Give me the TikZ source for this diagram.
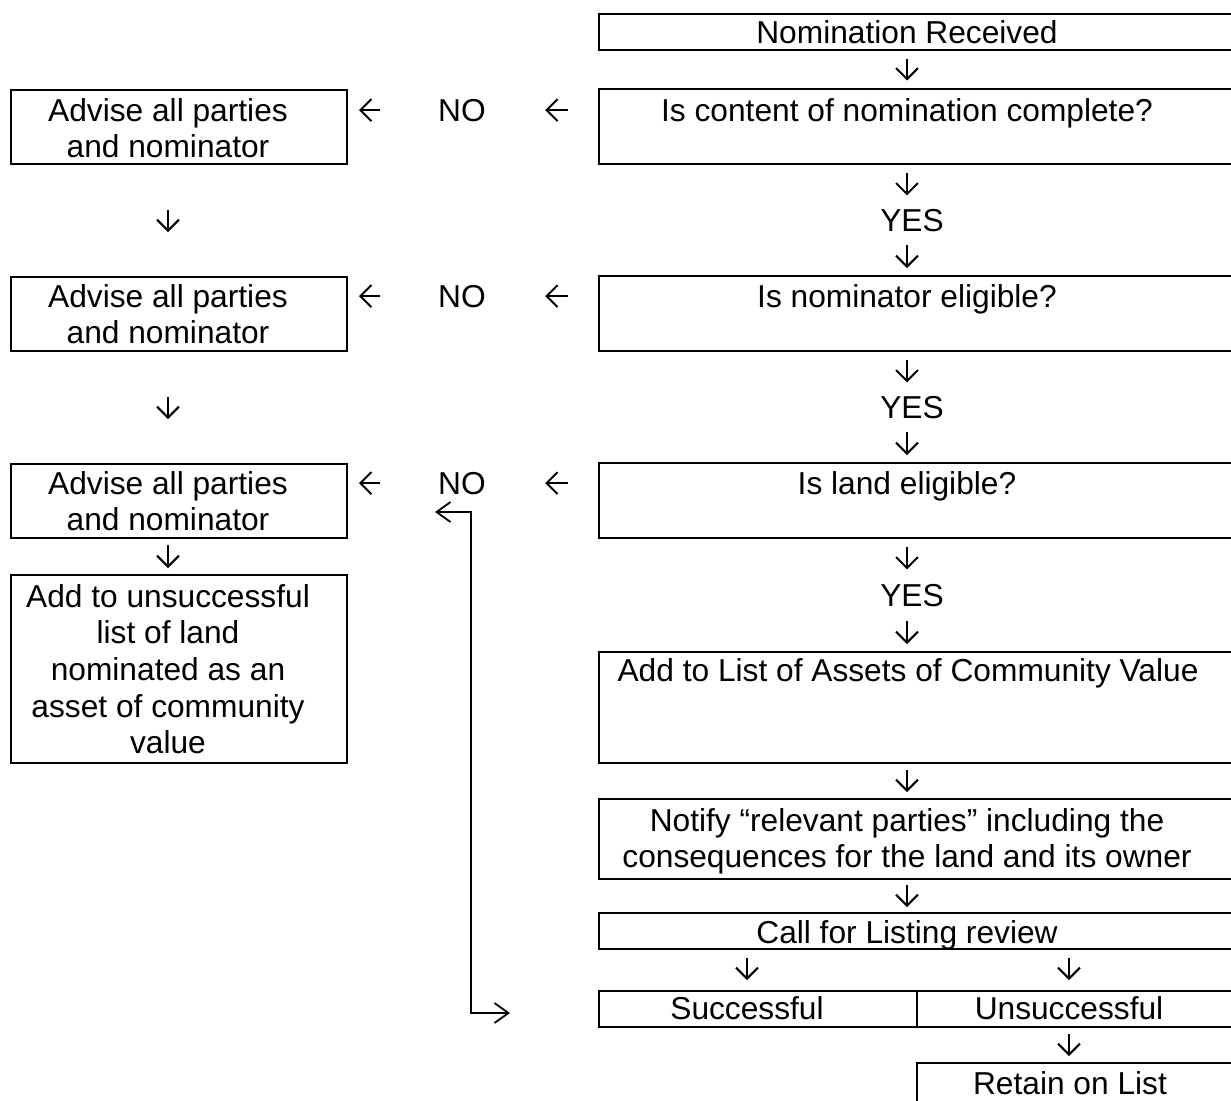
\documentclass[tikz,border=0pt]{standalone}
\usepackage{fontspec}
\setmainfont{Liberation Sans}
\usetikzlibrary{arrows.meta,positioning}
\tikzset{
  box/.style={draw, line width=1pt, inner sep=0pt, anchor=north west},
  txt/.style={inner sep=0pt, align=center, font=\fontsize{15.85pt}{18.3pt}\selectfont},
  flow/.style={line width=1pt, -{Straight Barb[length=5.5pt,width=11pt]}},
  link/.style={line width=0.9pt, {Straight Barb[length=7pt,width=10pt]}-{Straight Barb[length=7pt,width=10pt]}}
}

\begin{document}
\begin{tikzpicture}[x=0.5pt, y=-0.5pt]
\fill[white] (0,0) rectangle (1231,1100);
\useasboundingbox (0,0) rectangle (1231,1100);
\clip (0,0) rectangle (1231,1100);

% right column
\node[box, minimum width=330pt, minimum height=18pt] (nom) at (598,13) {};
\node[box, minimum width=330pt, minimum height=37.5pt] (q1) at (598,88) {};
\node[box, minimum width=330pt, minimum height=37.5pt] (q2) at (598,275) {};
\node[box, minimum width=330pt, minimum height=37.5pt] (q3) at (598,462) {};
\node[box, minimum width=330pt, minimum height=55.5pt] (addl) at (598,651) {};
\node[box, minimum width=330pt, minimum height=40pt] (notify) at (598,798) {};
\node[box, minimum width=330pt, minimum height=18pt] (call) at (598,912) {};
\node[box, minimum width=159pt, minimum height=18pt] (succ) at (598,990) {};
\node[box, minimum width=171pt, minimum height=18pt] (unsucc) at (916,990) {};
\node[box, minimum width=171pt, minimum height=30pt] (retain) at (916,1062) {};

\node[txt, anchor=base] (nomt) at (907,43) {Nomination Received};
\node[txt, anchor=base] (q1t) at (907,121) {Is content of nomination complete?};
\node[txt, anchor=base] (yes1) at (912,231) {YES};
\node[txt, anchor=base] (q2t) at (907,307) {Is nominator eligible?};
\node[txt, anchor=base] (yes2) at (912,418) {YES};
\node[txt, anchor=base] (q3t) at (907,494) {Is land eligible?};
\node[txt, anchor=base] (yes3) at (912,606) {YES};
\node[txt, anchor=base] (addt) at (908,681) {Add to List of Assets of Community Value};
\node[txt, anchor=north] (notifyt) at (907,808) {Notify “relevant parties” including the\\consequences for the land and its owner};
\node[txt, anchor=base] (callt) at (907,943) {Call for Listing review};
\node[txt, anchor=base] (succt) at (747,1019) {Successful};
\node[txt, anchor=base] (unsucct) at (1069,1019) {Unsuccessful};
\node[txt, anchor=base] (retaint) at (1070,1094) {Retain on List};

% left column
\node[box, minimum width=168pt, minimum height=37pt] (adv1) at (10,89) {};
\node[box, minimum width=168pt, minimum height=37pt] (adv2) at (10,276) {};
\node[box, minimum width=168pt, minimum height=37pt] (adv3) at (10,463) {};
\node[box, minimum width=168pt, minimum height=94pt] (unlist) at (10,574) {};

\node[txt, anchor=north] (adv1t) at (168,98) {Advise all parties\\and nominator};
\node[txt, anchor=north] (adv2t) at (168,284) {Advise all parties\\and nominator};
\node[txt, anchor=north] (adv3t) at (168,471) {Advise all parties\\and nominator};
\node[txt, anchor=north] (unlistt) at (168,584) {Add to unsuccessful\\list of land\\nominated as an\\asset of community\\value};

\node[txt, anchor=base] (no1) at (462,121) {NO};
\node[txt, anchor=base] (no2) at (462,307) {NO};
\node[txt, anchor=base] (no3) at (462,494) {NO};

% downward flow
\draw[flow, shorten <=3.75pt, shorten >=3.75pt] (nomt |- nom.south) -- (nomt |- q1.north);
\draw[flow, shorten <=4pt, shorten >=6.5pt] (q1t |- q1.south) -- (q1t |- yes1.north);
\draw[flow, shorten <=6.5pt, shorten >=3.5pt] (q1t |- yes1.south) -- (q1t |- q2.north);
\draw[flow, shorten <=4pt, shorten >=6.5pt] (q2t |- q2.south) -- (q2t |- yes2.north);
\draw[flow, shorten <=6.5pt, shorten >=3.5pt] (q2t |- yes2.south) -- (q2t |- q3.north);
\draw[flow, shorten <=4pt, shorten >=7pt] (q3t |- q3.south) -- (q3t |- yes3.north);
\draw[flow, shorten <=7pt, shorten >=3.5pt] (q3t |- yes3.south) -- (q3t |- addl.north);
\draw[flow, shorten <=3pt, shorten >=3pt] (nomt |- addl.south) -- (nomt |- notify.north);
\draw[flow, shorten <=2.5pt, shorten >=2.5pt] (nomt |- notify.south) -- (nomt |- call.north);
\draw[flow, shorten <=4pt, shorten >=5pt] (succt |- call.south) -- (succt |- succ.north);
\draw[flow, shorten <=4pt, shorten >=5pt] (unsucct |- call.south) -- (unsucct |- unsucc.north);
\draw[flow, shorten <=3pt, shorten >=3pt] (unsucct |- unsucc.south) -- (unsucct |- retain.north);

\draw[flow, shorten <=22.5pt, shorten >=22pt] (adv1t |- adv1.south) -- (adv1t |- adv2.north);
\draw[flow, shorten <=22.5pt, shorten >=22pt] (adv2t |- adv2.south) -- (adv2t |- adv3.north);
\draw[flow, shorten <=3pt, shorten >=3pt] (adv3t |- adv3.south) -- (adv3t |- unlist.north);

% NO branches
\draw[flow, shorten <=15pt, shorten >=29.5pt] (q1.west |- no1) -- (no1);
\draw[flow, shorten <=29pt, shorten >=5.5pt] (no1) -- (adv1.east |- no1);
\draw[flow, shorten <=15pt, shorten >=29.5pt] (q2.west |- no2) -- (no2);
\draw[flow, shorten <=29pt, shorten >=5.5pt] (no2) -- (adv2.east |- no2);
\draw[flow, shorten <=15pt, shorten >=29.5pt] (q3.west |- no3) -- (no3);
\draw[flow, shorten <=29pt, shorten >=5.5pt] (no3) -- (adv3.east |- no3);

% review loop
\coordinate (loopt) at (471,512);
\coordinate (loopb) at (471,1013);
\draw[link, shorten <=43.5pt, shorten >=44pt] (adv3.east |- loopt) -- (loopt) -- (loopb) -- (succ.west |- loopb);
\end{tikzpicture}
\end{document}
